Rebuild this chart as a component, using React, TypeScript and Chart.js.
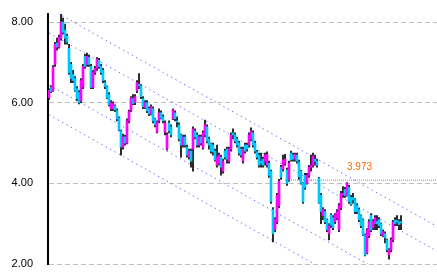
import React, { useEffect, useRef } from 'react';
import { Chart, registerables } from 'chart.js';

Chart.register(...registerables);

// ---- Data ----
const OPEN = [
  6.12, 6.38, 6.30, 6.95, 7.48, 7.38, 7.60, 8.00, 7.80, 7.65,
  7.35, 6.95, 6.70, 6.60, 6.35, 6.25, 6.05, 6.40, 7.15, 6.95,
  7.12, 6.90, 6.38, 6.75, 6.85, 7.05, 6.90, 6.80, 6.50, 6.40,
  6.20, 5.85, 5.85, 5.92, 5.80, 5.62, 5.30, 4.90, 5.15, 5.00,
  5.55, 5.80, 6.10, 6.00, 6.30, 6.45, 6.42, 6.10, 5.88, 6.00,
  5.85, 5.72, 5.85, 5.60, 5.27, 5.55, 5.75, 5.65, 5.27, 4.85,
  5.50, 5.40, 5.60, 5.75, 5.55, 5.45, 5.20, 4.95, 5.15, 4.90,
  4.65, 4.80, 4.85, 5.30, 5.20, 4.95, 5.15, 4.88, 5.20, 5.40,
  5.10, 4.98, 4.95, 4.80, 4.45, 4.50, 4.65, 4.30, 4.80, 4.85,
  4.55, 4.85, 5.25, 5.20, 5.10, 5.00, 4.85, 4.55, 4.95, 4.95,
  4.95, 5.10, 5.25, 5.00, 4.78, 4.70, 4.55, 4.60, 4.55, 4.45,
  4.50, 4.30, 3.35, 2.85, 3.05, 3.45, 4.40, 4.35, 4.50, 4.33,
  4.10, 4.75, 4.70, 4.60, 4.70, 4.53, 4.30, 4.00, 4.20, 4.00,
  4.20, 4.40, 4.45, 4.60, 4.55, 4.13, 3.70, 3.20, 3.30, 3.10,
  2.75, 3.22, 3.15, 3.05, 3.15, 2.85, 3.40, 3.72, 3.85, 3.70,
  3.90, 3.65, 3.65, 3.60, 3.45, 3.35, 3.20, 3.10, 2.72, 2.27,
  2.70, 3.21, 2.90, 3.00, 3.05, 3.10, 3.00, 2.70, 2.75, 2.60,
  2.22, 2.35, 2.60, 3.09, 3.08, 3.05, 3.05,
];
const HIGH = [
  6.35, 6.42, 6.92, 7.50, 7.60, 7.68, 8.20, 8.10, 7.95, 7.70,
  7.45, 7.00, 6.80, 6.65, 6.40, 6.30, 6.60, 6.95, 7.20, 7.23,
  7.18, 6.95, 6.80, 6.90, 7.12, 7.10, 6.95, 6.85, 6.55, 6.42,
  6.25, 6.05, 6.02, 5.95, 5.85, 5.65, 5.32, 5.22, 5.20, 5.60,
  5.82, 6.15, 6.20, 6.20, 6.55, 6.72, 6.45, 6.15, 6.05, 6.05,
  5.90, 5.95, 5.90, 5.62, 5.55, 5.85, 5.80, 5.70, 5.55, 5.25,
  5.55, 5.45, 5.85, 5.80, 5.65, 5.50, 5.22, 5.20, 5.20, 4.95,
  4.85, 4.85, 5.40, 5.35, 5.25, 5.20, 5.20, 5.30, 5.57, 5.45,
  5.15, 5.00, 5.00, 4.85, 4.95, 4.75, 4.70, 4.60, 4.85, 4.90,
  4.90, 5.25, 5.35, 5.25, 5.15, 5.05, 4.90, 4.90, 5.00, 5.00,
  5.25, 5.38, 5.30, 5.05, 4.82, 4.75, 4.75, 4.65, 4.75, 4.78,
  4.55, 4.33, 3.40, 3.15, 3.75, 4.10, 4.45, 4.70, 4.72, 4.38,
  4.55, 4.80, 4.75, 4.75, 4.75, 4.58, 4.32, 4.02, 4.25, 4.25,
  4.45, 4.70, 4.75, 4.70, 4.60, 4.15, 3.75, 3.40, 3.35, 3.12,
  3.00, 3.25, 3.20, 3.25, 3.35, 3.50, 3.80, 3.92, 3.90, 4.02,
  3.95, 3.70, 3.75, 3.62, 3.50, 3.38, 3.22, 3.12, 2.75, 2.88,
  3.10, 3.25, 3.10, 3.20, 3.20, 3.15, 3.02, 2.85, 2.80, 2.62,
  2.38, 2.65, 3.08, 3.15, 3.20, 3.10, 3.20,
];
const LOW = [
  6.08, 6.25, 6.28, 6.90, 7.30, 7.35, 7.55, 7.70, 7.45, 7.45,
  6.70, 6.50, 6.50, 6.28, 6.05, 5.97, 6.00, 6.35, 6.85, 6.90,
  6.90, 6.35, 6.35, 6.70, 6.80, 6.85, 6.70, 6.50, 6.35, 6.10,
  5.92, 5.80, 5.80, 5.78, 5.55, 5.30, 4.70, 4.85, 4.95, 4.98,
  5.50, 5.78, 5.95, 5.95, 6.25, 6.35, 6.10, 5.85, 5.85, 5.75,
  5.68, 5.70, 5.50, 5.40, 5.25, 5.50, 5.60, 5.50, 5.20, 4.82,
  5.25, 5.15, 5.58, 5.55, 5.40, 5.05, 4.65, 4.90, 4.90, 4.65,
  4.60, 4.40, 4.30, 5.10, 4.90, 4.90, 4.95, 4.85, 5.15, 5.00,
  4.85, 4.75, 4.70, 4.55, 4.40, 4.45, 4.20, 4.25, 4.60, 4.50,
  4.50, 4.80, 5.10, 5.00, 4.90, 4.70, 4.65, 4.50, 4.75, 4.80,
  4.90, 5.05, 4.90, 4.75, 4.60, 4.40, 4.40, 4.40, 4.45, 4.40,
  4.15, 3.50, 2.55, 2.80, 3.00, 3.40, 4.10, 4.30, 4.45, 3.95,
  4.05, 4.55, 4.55, 4.55, 4.50, 4.10, 3.98, 3.50, 3.85, 3.98,
  4.15, 4.30, 4.40, 4.45, 4.40, 3.50, 3.00, 3.10, 3.00, 2.80,
  2.60, 2.90, 2.85, 3.00, 3.10, 2.80, 3.35, 3.65, 3.65, 3.68,
  3.50, 3.45, 3.50, 3.25, 3.25, 3.05, 2.90, 2.70, 2.20, 2.25,
  2.65, 2.80, 2.85, 2.85, 2.85, 2.90, 2.70, 2.68, 2.52, 2.30,
  2.12, 2.30, 2.55, 2.95, 2.95, 2.85, 2.85,
];
const CLOSE = [
  6.31, 6.28, 6.88, 7.45, 7.38, 7.62, 8.00, 7.75, 7.60, 7.50,
  6.75, 6.60, 6.55, 6.30, 6.10, 6.00, 6.55, 6.90, 6.90, 7.15,
  6.95, 6.38, 6.75, 6.85, 7.08, 6.90, 6.75, 6.55, 6.40, 6.12,
  5.95, 6.00, 5.98, 5.82, 5.60, 5.32, 4.90, 5.15, 5.00, 5.55,
  5.78, 6.12, 5.98, 6.15, 6.50, 6.42, 6.15, 5.90, 6.00, 5.80,
  5.72, 5.90, 5.55, 5.45, 5.52, 5.75, 5.62, 5.55, 5.50, 5.20,
  5.30, 5.20, 5.82, 5.60, 5.52, 5.10, 4.95, 5.15, 4.95, 4.70,
  4.80, 4.55, 5.35, 5.15, 4.95, 5.15, 5.00, 5.25, 5.45, 5.05,
  4.95, 4.80, 4.78, 4.58, 4.65, 4.70, 4.40, 4.55, 4.65, 4.60,
  4.85, 5.20, 5.20, 5.05, 4.95, 4.75, 4.70, 4.85, 4.80, 4.85,
  5.20, 5.30, 4.95, 4.80, 4.65, 4.45, 4.50, 4.45, 4.70, 4.72,
  4.20, 3.55, 2.75, 3.10, 3.70, 4.05, 4.15, 4.58, 4.60, 4.00,
  4.50, 4.58, 4.60, 4.72, 4.55, 4.16, 4.00, 3.54, 3.90, 4.20,
  4.40, 4.45, 4.68, 4.55, 4.45, 3.51, 3.30, 3.35, 3.05, 2.85,
  2.95, 2.97, 2.90, 3.22, 3.30, 3.45, 3.75, 3.75, 3.70, 4.00,
  3.55, 3.48, 3.60, 3.30, 3.30, 3.10, 2.95, 2.72, 2.22, 2.84,
  3.05, 2.84, 3.05, 3.15, 3.00, 2.95, 2.75, 2.80, 2.65, 2.35,
  2.35, 2.60, 3.04, 3.00, 3.05, 2.98, 3.02,
];

const SLOT_COUNT = 195;
const CATEGORIES = Array.from({ length: SLOT_COUNT }, (_, i) => String(i + 1));
const Y_TICKS = [2, 4, 6, 8];
const Y_MIN = 2;
const Y_MAX = 8.2;

// trend channel lines: value at first slot and at last slot
const TREND_START = [8.34, 7.73, 6.44, 5.7];
const TREND_END = [2.93, 2.32, 1.03, 0.29];

// horizontal level line
const LEVEL_VALUE = 4.08;
const LEVEL_LABEL = '3.973';
const LEVEL_START = 118;
const LEVEL_LABEL_INDEX = 149;

const UP_COLOR = '#ff00ff';
const DOWN_COLOR = '#00c8ff';

function sparseLine(startIdx: number, startVal: number, endIdx: number, endVal: number) {
  const arr: (number | null)[] = new Array(SLOT_COUNT).fill(null);
  arr[startIdx] = startVal;
  arr[endIdx] = endVal;
  return arr;
}

const levelLabelPlugin = {
  id: 'levelLabel',
  afterDatasetsDraw(chart: any) {
    const { ctx, scales } = chart;
    const x = scales.x;
    const y = scales.y;
    ctx.save();
    ctx.font = '10px "Liberation Sans", Arial, sans-serif';
    ctx.fillStyle = '#ff6600';
    ctx.textAlign = 'left';
    ctx.textBaseline = 'alphabetic';
    ctx.fillText(LEVEL_LABEL, x.getPixelForValue(LEVEL_LABEL_INDEX), y.getPixelForValue(LEVEL_VALUE) - 10);
    ctx.restore();
  },
};

export default function App() {
  const ref = useRef<HTMLCanvasElement>(null);

  useEffect(() => {
    document.body.style.margin = '0';
    document.body.style.overflow = 'hidden';
    const canvas = ref.current;
    if (!canvas) return;

    const wickData = HIGH.map((h, i) => [LOW[i], h]);
    const bodyData = OPEN.map((o, i) => [o, CLOSE[i]]);
    const bodyColors = OPEN.map((o, i) => (CLOSE[i] >= o ? UP_COLOR : DOWN_COLOR));

    const trendSets = TREND_START.map((s, k) => ({
      type: 'line' as const,
      data: sparseLine(0, s, SLOT_COUNT - 1, TREND_END[k]),
      borderColor: '#7070ff',
      borderWidth: 1,
      borderDash: [1.5, 3.5],
      pointRadius: 0,
      spanGaps: true,
      fill: false,
      order: 10,
    }));

    const chart = new Chart(canvas, {
      type: 'bar',
      data: {
        labels: CATEGORIES,
        datasets: [
          ...trendSets,
          {
            type: 'line' as const,
            data: sparseLine(LEVEL_START, LEVEL_VALUE, SLOT_COUNT - 1, LEVEL_VALUE),
            borderColor: '#ff6600',
            borderWidth: 1,
            borderDash: [1, 1],
            pointRadius: 0,
            spanGaps: true,
            fill: false,
            order: 0,
          },
          {
            type: 'bar' as const,
            data: wickData as any,
            backgroundColor: '#000000',
            barThickness: 1,
            grouped: false,
            order: 2,
          },
          {
            type: 'bar' as const,
            data: bodyData as any,
            backgroundColor: bodyColors,
            barThickness: 2,
            grouped: false,
            order: 1,
          },
        ] as any,
      },
      plugins: [levelLabelPlugin],
      options: {
        responsive: false,
        devicePixelRatio: 1,
        animation: false,
        layout: { padding: { top: 14, bottom: 14, left: 0, right: 0 } },
        plugins: {
          legend: { display: false },
          tooltip: { enabled: false },
        },
        scales: {
          x: {
            display: false,
          },
          y: {
            min: Y_MIN,
            max: Y_MAX,
            afterBuildTicks: (scale: any) => {
              scale.ticks = Y_TICKS.map((v) => ({ value: v }));
            },
            afterFit: (scale: any) => {
              scale.width = 48;
              scale.paddingTop = 0;
              scale.paddingBottom = 0;
            },
            ticks: {
              color: '#000000',
              padding: 15,
              font: { family: '"Liberation Sans Narrow", "Liberation Sans", Arial, sans-serif', size: 11 },
              callback: (v: any) => Number(v).toFixed(2),
            },
            grid: {
              color: '#c0c0c0',
              lineWidth: 1,
              drawTicks: false,
            },
            border: {
              display: true,
              color: '#000000',
              width: 2,
              dash: [5, 3],
            },
          },
        },
      } as any,
    });

    return () => chart.destroy();
  }, []);

  return (
    <div style={{ position: 'fixed', left: 0, top: 0, width: 438, height: 278, background: '#ffffff' }}>
      <canvas ref={ref} width={438} height={278} style={{ display: 'block' }} />
    </div>
  );
}
